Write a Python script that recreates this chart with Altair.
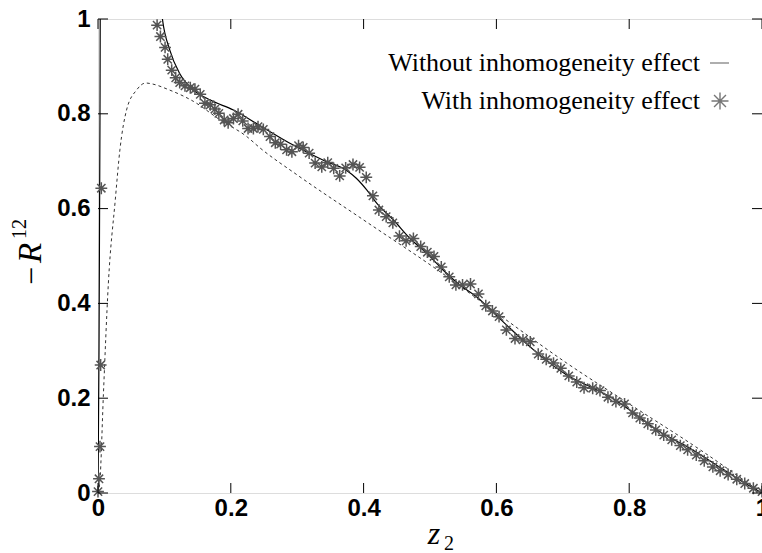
import altair as alt
import pandas as pd

# ---------------- data ----------------
star_x = [0.0, 0.0015, 0.003, 0.004, 0.005,
          0.089, 0.094, 0.101, 0.105, 0.111, 0.117, 0.123, 0.131, 0.139, 0.146,
          0.154, 0.161, 0.169, 0.176, 0.182, 0.190, 0.196, 0.204, 0.211, 0.218,
          0.226, 0.234, 0.241,
          0.249, 0.259, 0.267, 0.275, 0.284, 0.292, 0.302, 0.309, 0.318, 0.327,
          0.337, 0.346, 0.355, 0.364, 0.373, 0.384, 0.394, 0.404, 0.414, 0.423,
          0.434, 0.444, 0.454, 0.464, 0.475, 0.486, 0.496, 0.506, 0.517, 0.529,
          0.539, 0.549, 0.561, 0.573, 0.584, 0.594, 0.604,
          0.615, 0.628, 0.640, 0.651, 0.663, 0.675, 0.686, 0.697, 0.709, 0.721,
          0.732, 0.745, 0.756, 0.768, 0.780, 0.793, 0.805, 0.816, 0.828, 0.840,
          0.852, 0.864, 0.877, 0.888, 0.901, 0.913, 0.926, 0.937, 0.949, 0.962,
          0.974, 0.987, 1.0]
star_y = [0.003, 0.03, 0.098, 0.27, 0.643,
          0.987, 0.963, 0.940, 0.915, 0.892, 0.876, 0.866, 0.859, 0.855, 0.852,
          0.841, 0.822, 0.819, 0.810, 0.801, 0.787, 0.781, 0.790, 0.799, 0.785,
          0.769, 0.769, 0.773,
          0.767, 0.752, 0.739, 0.736, 0.724, 0.720, 0.733, 0.729, 0.717, 0.696,
          0.688, 0.697, 0.685, 0.669, 0.686, 0.693, 0.687, 0.666, 0.627, 0.597,
          0.583, 0.570, 0.542, 0.532, 0.537, 0.520, 0.508, 0.499, 0.477, 0.456,
          0.439, 0.439, 0.441, 0.420, 0.395, 0.384, 0.372,
          0.344, 0.326, 0.323, 0.319, 0.293, 0.282, 0.274, 0.263, 0.247, 0.234,
          0.222, 0.221, 0.216, 0.202, 0.193, 0.188, 0.169, 0.158, 0.146, 0.133,
          0.122, 0.112, 0.100, 0.091, 0.080, 0.068, 0.055, 0.047, 0.039, 0.029,
          0.020, 0.010, 0.003]

solid_x = [0.0, 0.0015, 0.003, 0.004, 0.09, 0.097, 0.108, 0.123, 0.144, 0.169,
           0.204, 0.244, 0.294, 0.344, 0.374, 0.389, 0.405, 0.420, 0.445, 0.470,
           0.495, 0.520, 0.545, 0.570, 0.605, 0.656, 0.706, 0.746, 0.771, 0.801,
           0.846, 0.887, 0.927, 0.967, 1.0]
solid_y = [0.0, 0.3, 0.8, 1.3, 1.1, 1.0, 0.935, 0.885, 0.850, 0.829,
           0.808, 0.775, 0.734, 0.699, 0.681, 0.664, 0.639, 0.611, 0.576, 0.537,
           0.506, 0.470, 0.439, 0.414, 0.368, 0.302, 0.249, 0.221, 0.203, 0.175,
           0.129, 0.098, 0.063, 0.027, 0.0]

dash_x = [0.0, 0.003, 0.008, 0.0156, 0.026, 0.033, 0.043, 0.058, 0.072, 0.078,
          0.108, 0.144, 0.184, 0.224, 0.244, 0.30, 0.40, 0.515, 0.605, 0.706,
          0.80, 0.907, 1.0]
dash_y = [0.0, 0.027, 0.203, 0.442, 0.618, 0.724, 0.808, 0.850, 0.865, 0.864,
          0.850, 0.826, 0.787, 0.752, 0.728, 0.671, 0.576, 0.467, 0.375, 0.274,
          0.188, 0.091, 0.0]

tick_vals = [0.0, 0.2, 0.4, 0.6, 0.8, 1.0]
legend_labels = ["Without inhomogeneity effect", "With inhomogeneity effect"]

# ---------------- layout ----------------
W, H = 664, 474
STAR = "M-1,0L1,0M0,-1L0,1M-0.7,-0.7L0.7,0.7M-0.7,0.7L0.7,-0.7"

xs = alt.Scale(domain=[0, 1], nice=False, zero=False)
ys = alt.Scale(domain=[0, 1], nice=False, zero=False)

lab = dict(labelFont="Liberation Sans", labelFontWeight="bold", labelFontSize=24,
           labelColor="black", ticks=False, domain=False, grid=False,
           labelFlush=False, values=tick_vals, format=".1~f")
xaxis = alt.Axis(labelPadding=3, **lab)
yaxis = alt.Axis(labelPadding=8, **lab)

df_star = pd.DataFrame({"x": star_x, "y": star_y})
df_solid = pd.DataFrame({"x": solid_x, "y": solid_y, "i": range(len(solid_x))})
df_dash = pd.DataFrame({"x": dash_x, "y": dash_y, "i": range(len(dash_x))})
df_t = pd.DataFrame({"t": tick_vals})
one = pd.DataFrame({"a": [0]})

dash = alt.Chart(df_dash).mark_line(
    color="#333333", strokeWidth=1, strokeDash=[3, 3], clip=True, interpolate="monotone"
).encode(
    x=alt.X("x:Q", scale=xs, axis=xaxis, title=""),
    y=alt.Y("y:Q", scale=ys, axis=yaxis, title=""),
    order="i:Q",
)

solid = alt.Chart(df_solid).mark_line(
    color="black", strokeWidth=1.2, clip=True, interpolate="monotone"
).encode(
    x=alt.X("x:Q", scale=xs),
    y=alt.Y("y:Q", scale=ys),
    order="i:Q",
)

stars = alt.Chart(df_star).mark_point(
    shape=STAR, filled=False, stroke="#555555", strokeWidth=1.5, size=140, opacity=1
).encode(
    x=alt.X("x:Q", scale=xs),
    y=alt.Y("y:Q", scale=ys),
)

tick_style = dict(color="black", strokeWidth=1)
xt_bot = alt.Chart(df_t).mark_rule(**tick_style).encode(
    x=alt.X("t:Q", scale=xs), y=alt.value(H), y2=alt.value(H - 10))
xt_top = alt.Chart(df_t).mark_rule(**tick_style).encode(
    x=alt.X("t:Q", scale=xs), y=alt.value(0), y2=alt.value(10))
yt_left = alt.Chart(df_t).mark_rule(**tick_style).encode(
    y=alt.Y("t:Q", scale=ys), x=alt.value(0), x2=alt.value(10))
yt_right = alt.Chart(df_t).mark_rule(**tick_style).encode(
    y=alt.Y("t:Q", scale=ys), x=alt.value(W - 10), x2=alt.value(W))

leg_font = dict(font="Liberation Serif", fontSize=26, color="black",
                align="right", baseline="middle")
leg1 = alt.Chart(one).mark_text(text=legend_labels[0], **leg_font).encode(
    x=alt.value(602), y=alt.value(44))
leg2 = alt.Chart(one).mark_text(text=legend_labels[1], **leg_font).encode(
    x=alt.value(602), y=alt.value(82))
leg_line = alt.Chart(one).mark_rule(color="#777777", strokeWidth=1.2).encode(
    x=alt.value(612), x2=alt.value(631), y=alt.value(44))
leg_star = alt.Chart(one).mark_point(
    shape=STAR, filled=False, stroke="#777777", strokeWidth=1.4, size=290, opacity=1
).encode(x=alt.value(622), y=alt.value(82))

# axis titles (math-style pieces)
xt_z = alt.Chart(one).mark_text(text="z", font="Liberation Serif", fontStyle="italic",
                                fontSize=32, color="black", align="center",
                                baseline="middle").encode(x=alt.value(336), y=alt.value(515))
xt_2 = alt.Chart(one).mark_text(text="2", font="Liberation Serif", fontSize=20,
                                color="black", align="center",
                                baseline="middle").encode(x=alt.value(351), y=alt.value(525))
yt_minus = alt.Chart(one).mark_text(text="\u2212", font="Liberation Serif", fontSize=32,
                                    color="black", angle=270, align="center",
                                    baseline="middle").encode(x=alt.value(-66), y=alt.value(257))
yt_R = alt.Chart(one).mark_text(text="R", font="Liberation Serif", fontStyle="italic",
                                fontSize=33, color="black", angle=270, align="center",
                                baseline="middle").encode(x=alt.value(-67), y=alt.value(234))
yt_12 = alt.Chart(one).mark_text(text="12", font="Liberation Serif", fontSize=20,
                                 color="black", angle=270, align="center",
                                 baseline="middle").encode(x=alt.value(-78), y=alt.value(210))

chart = alt.layer(
    dash, solid, stars, xt_bot, xt_top, yt_left, yt_right,
    leg1, leg2, leg_line, leg_star, xt_z, xt_2, yt_minus, yt_R, yt_12
).properties(
    width=W, height=H,
    autosize=alt.AutoSizeParams(type="none"),
    padding={"left": 98, "top": 19, "right": 0, "bottom": 60},
).configure_view(
    stroke="black", strokeWidth=1.5
).configure(background="white")

chart.save("out.html", embed_options={"renderer": "svg", "actions": False})
